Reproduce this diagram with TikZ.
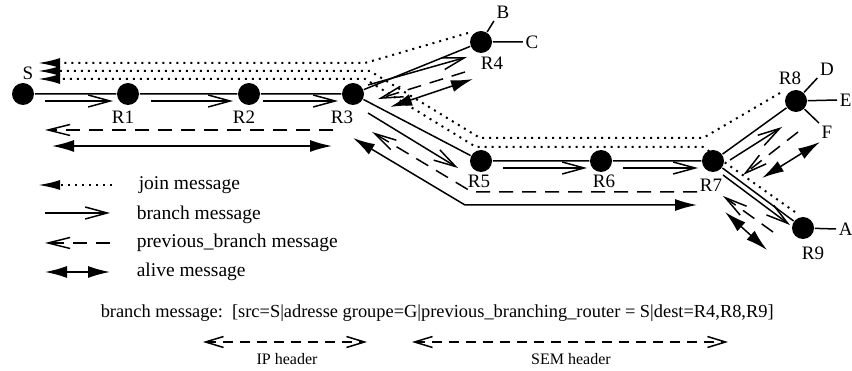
\documentclass[tikz,border=0pt]{standalone}
\usepackage{fontspec}
\setmainfont{Liberation Serif}
\usetikzlibrary{arrows.meta}

\begin{document}
\begin{tikzpicture}[x=1pt,y=-1pt,line width=1.5pt,
    router/.style={circle,fill,inner sep=0pt,minimum size=22pt},
    lbl/.style={font=\fontsize{19}{20}\selectfont,inner sep=0pt,anchor=base},
    leaf/.style={font=\fontsize{19}{20}\selectfont,inner sep=2pt},
    txt/.style={font=\fontsize{19.5}{21}\selectfont,inner sep=0pt,anchor=base west},
    small/.style={font=\fontsize{16}{18}\selectfont,inner sep=0pt,anchor=base},
    joinmsg/.style={line width=2pt,dash pattern=on 2pt off 5pt,-{Latex[length=22pt,width=10pt]}},
    branchmsg/.style={-{Straight Barb[length=22pt,width=12pt]}},
    prevmsg/.style={dash pattern=on 14pt off 9pt,-{Straight Barb[length=22pt,width=11pt]}},
    alivemsg/.style={{Latex[length=22pt,width=12pt]}-{Latex[length=22pt,width=12pt]}},
    header/.style={dash pattern=on 10pt off 7pt,{Straight Barb[length=18pt,width=11pt]}-{Straight Barb[length=18pt,width=11pt]}}]
    \useasboundingbox (0,0) rectangle (852,371);

    % routers
    \node[router] (S) at (23,94) {};
    \node[router] (R1) at (128,94) {};
    \node[router] (R2) at (249,94) {};
    \node[router] (R3) at (353,94) {};
    \node[router] (R4) at (481,42) {};
    \node[router] (R5) at (481,161) {};
    \node[router] (R6) at (601,161) {};
    \node[router] (R7) at (713,161) {};
    \node[router] (R8) at (796,101) {};
    \node[router] (R9) at (803,228) {};

    % receivers
    \node[leaf] (B) at (503,12) {B};
    \node[leaf] (C) at (532,42) {C};
    \node[leaf] (D) at (827,69) {D};
    \node[leaf,anchor=west,inner sep=0pt] (E) at (839,100) {E};
    \node[leaf] (F) at (827,132) {F};
    \node[leaf,anchor=west,inner sep=0pt] (A) at (838,229) {A};

    % tree
    \draw (S) -- (R1) -- (R2) -- (R3) -- (R4);
    \draw (R3) -- (R5) -- (R6) -- (R7) -- (R8);
    \draw (R7) -- (R9);
    \draw (R4) -- (B.south west) (R4) -- (C.west);
    \draw (R8) -- (D.south west) (R8) -- ([xshift=-2pt]E.west) (R8) -- (F.north west);
    \draw (R9) -- ([xshift=-2pt]A.west);

    % labels
    \node[lbl] at (28,80) {S};
    \node[lbl] at (123,124) {R1};
    \node[lbl] at (244,124) {R2};
    \node[lbl] at (342,124) {R3};
    \node[lbl] at (492,70) {R4};
    \node[lbl] at (479,188) {R5};
    \node[lbl] at (604,188) {R6};
    \node[lbl] at (711,192) {R7};
    \node[lbl] at (790,85) {R8};
    \node[lbl] at (813,260) {R9};

    % join messages
    \draw[joinmsg] (468,33) -- (365,63) -- (38,63);
    \draw[joinmsg] (780,93) -- (703,138) -- (480,138) -- (370,71) -- (38,71);
    \draw[joinmsg] (795,212) -- (703,147) -- (476,147) -- (365,79) -- (38,79);

    % branch messages
    \draw[branchmsg] (45,101) -- (113,101);
    \draw[branchmsg] (151,101) -- (233,101);
    \draw[branchmsg] (263,101) -- (338,101);
    \draw[branchmsg] (368,85) -- (467,57);
    \draw[branchmsg] (368,113) -- (458,168);
    \draw[branchmsg] (503,168) -- (587,168);
    \draw[branchmsg] (623,168) -- (698,168);
    \draw[branchmsg] (730,160) -- (782,127);
    \draw[branchmsg] (723,175) -- (790,225);

    % previous_branch messages
    \draw[prevmsg] (333,130) -- (45,130);
    \draw[prevmsg] (465,72) -- (378,99);
    \draw[prevmsg] (697,192) -- (472,192) -- (372,132);
    \draw[prevmsg] (798,132) -- (743,175);
    \draw[prevmsg] (773,232) -- (723,196);

    % alive messages
    \draw[alivemsg] (52,146) -- (332,146);
    \draw[alivemsg] (390,107) -- (473,79);
    \draw[alivemsg] (353,138) -- (465,205) -- (697,205);
    \draw[alivemsg] (762,178) -- (820,142);
    \draw[alivemsg] (725,212) -- (767,250);

    % legend
    \draw[joinmsg] (112,185) -- (38,185);
    \draw[branchmsg] (45,213) -- (110,213);
    \draw[prevmsg] (110,243) -- (45,243);
    \draw[alivemsg] (45,272) -- (110,272);
    \node[txt] at (138,190) {join message};
    \node[txt] at (136,220) {branch message};
    \node[txt] at (136,248) {previous\_branch message};
    \node[txt] at (136,277) {alive message};

    % message format
    \node[txt,font=\fontsize{18.4}{20}\selectfont] at (100,318) {branch message:\ \ [src=S|adresse groupe=G|previous\_branching\_router = S|dest=R4,R8,R9]};
    \draw[header] (203,342) -- (367,342);
    \draw[header] (412,342) -- (728,342);
    \node[small] at (287,365) {IP header};
    \node[small] at (571,365) {SEM header};
\end{tikzpicture}
\end{document}
